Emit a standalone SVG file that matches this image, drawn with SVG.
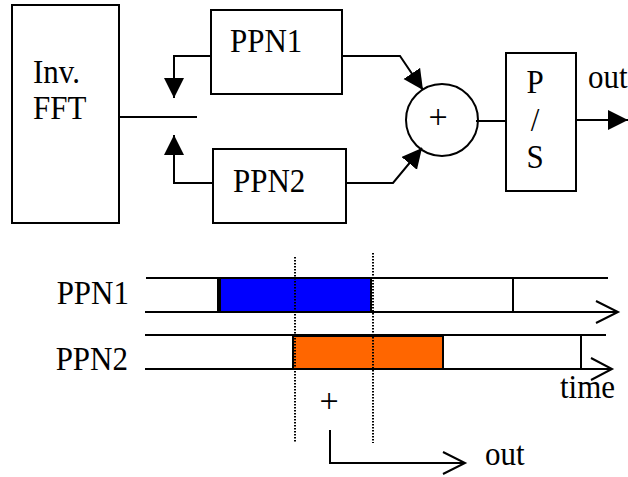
<svg xmlns="http://www.w3.org/2000/svg" width="628" height="477" viewBox="0 0 628 477">
  <style>
    .box { fill: #fff; stroke: #000; stroke-width: 2; }
    .ln { fill: none; stroke: #000; stroke-width: 2; }
    .dot { fill: none; stroke: #000; stroke-width: 2; stroke-dasharray: 1.5 1.5; }
    text { font-family: "Liberation Serif", "Times New Roman", serif; font-size: 31px; fill: #000; }
    .plus { font-size: 34px; }
  </style>
  <defs>
    <marker id="head" markerUnits="userSpaceOnUse" markerWidth="22" markerHeight="22" refX="20" refY="10" orient="auto" viewBox="0 0 22 22">
      <path d="M0,0 L20,10 L0,20 Z" fill="#000"/>
    </marker>
  </defs>

  <!-- block diagram -->
  <g id="inv-fft">
    <rect class="box" x="12" y="5" width="107" height="218"/>
    <text transform="translate(33,83) scale(1,1.12)">Inv.</text>
    <text transform="translate(33,119) scale(1,1.12)">FFT</text>
  </g>
  <g id="ppn1">
    <rect class="box" x="211" y="10" width="131" height="84"/>
    <text transform="translate(230,52) scale(1,1.12)">PPN1</text>
  </g>
  <g id="ppn2">
    <rect class="box" x="213" y="149" width="133" height="74"/>
    <text transform="translate(233,192) scale(1,1.12)">PPN2</text>
  </g>
  <g id="adder">
    <circle class="box" cx="442" cy="120" r="36"/>
    <text class="plus" transform="translate(438,128)" text-anchor="middle">+</text>
  </g>
  <g id="ps">
    <rect class="box" x="506" y="53" width="70" height="138"/>
    <text transform="translate(535,93) scale(1,1.12)" text-anchor="middle">P</text>
    <text transform="translate(535,131) scale(1,1.12)" text-anchor="middle">/</text>
    <text transform="translate(535,168) scale(1,1.12)" text-anchor="middle">S</text>
  </g>
  <text transform="translate(588,88) scale(1,1.12)">out</text>

  <g id="connectors">
    <line class="ln" x1="119" y1="117" x2="197" y2="117"/>
    <polyline class="ln" points="211,56 174,56 174,98" marker-end="url(#head)"/>
    <polyline class="ln" points="213,183 174,183 174,135" marker-end="url(#head)"/>
    <polyline class="ln" points="342,56 400,56 423,90" marker-end="url(#head)"/>
    <polyline class="ln" points="346,183 393,183 422,148" marker-end="url(#head)"/>
    <line class="ln" x1="476" y1="121" x2="506" y2="121"/>
    <line class="ln" x1="576" y1="120" x2="628" y2="120" marker-end="url(#head)"/>
  </g>

  <!-- timing chart -->
  <g id="timing-ppn1">
    <text transform="translate(129,304) scale(1,1.12)" text-anchor="end">PPN1</text>
    <line class="ln" x1="146" y1="278" x2="608" y2="278"/>
    <line class="ln" x1="145" y1="312" x2="617" y2="312"/>
    <polyline class="ln" points="596,301 618,312 596,323"/>
    <rect x="220" y="278" width="151" height="34" fill="#0000ff" stroke="#000" stroke-width="2"/>
    <line class="ln" x1="218" y1="278" x2="218" y2="312"/>
    <line class="ln" x1="513" y1="278" x2="513" y2="312"/>
  </g>
  <g id="timing-ppn2">
    <text transform="translate(128,370) scale(1,1.12)" text-anchor="end">PPN2</text>
    <line class="ln" x1="145" y1="335" x2="606" y2="335"/>
    <line class="ln" x1="145" y1="369" x2="611" y2="369"/>
    <polyline class="ln" points="591,358 612,369 591,380"/>
    <rect x="293" y="336" width="150" height="33" fill="#ff6600" stroke="#000" stroke-width="2"/>
    <line class="ln" x1="581" y1="336" x2="581" y2="369"/>
  </g>
  <text transform="translate(560,398) scale(1,1.12)">time</text>

  <g id="markers">
    <line class="dot" x1="295" y1="257" x2="295" y2="443"/>
    <line class="dot" x1="373" y1="253" x2="373" y2="443"/>
  </g>

  <g id="sum-out">
    <text class="plus" transform="translate(329,412)" text-anchor="middle">+</text>
    <polyline class="ln" points="330,430 330,463 465,463"/>
    <polyline class="ln" points="443,452 465,463 443,474"/>
    <text transform="translate(485,465) scale(1,1.12)">out</text>
  </g>
</svg>
